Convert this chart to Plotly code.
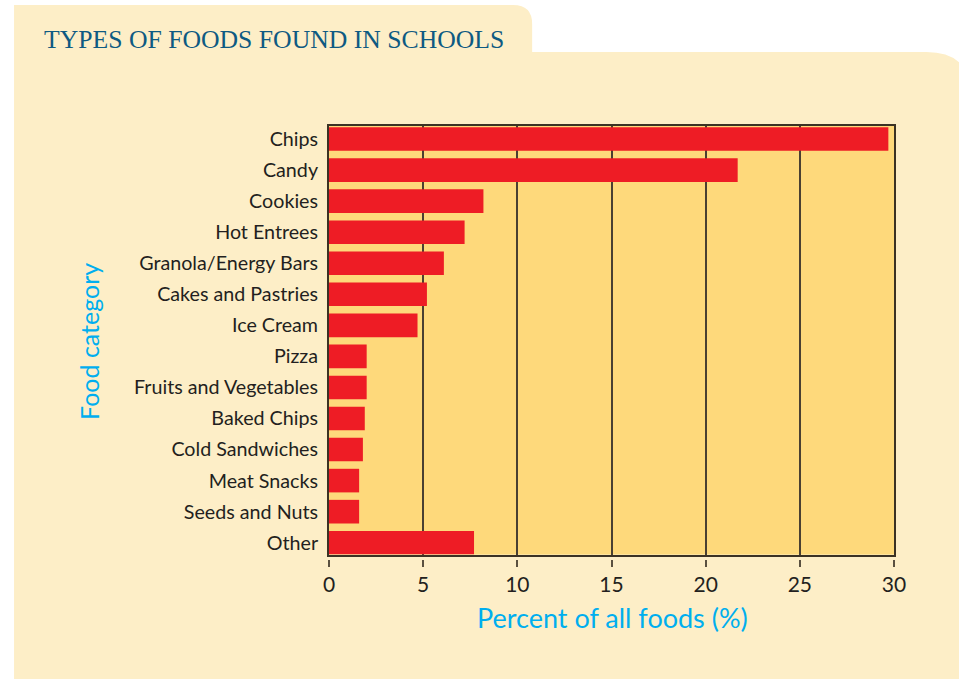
import plotly.graph_objects as go

categories = ["Chips", "Candy", "Cookies", "Hot Entrees", "Granola/Energy Bars",
              "Cakes and Pastries", "Ice Cream", "Pizza", "Fruits and Vegetables",
              "Baked Chips", "Cold Sandwiches", "Meat Snacks", "Seeds and Nuts", "Other"]
percent = [29.7, 21.7, 8.2, 7.2, 6.1, 5.2, 4.7, 2.0, 2.0, 1.9, 1.8, 1.6, 1.6, 7.7]
x_ticks = [0, 5, 10, 15, 20, 25, 30]

W, H = 959, 679
L, R, T, B = 328.5, 894.5, 126, 559  # paper box in pixels
AX_BOTTOM = 554.5


def px(x):
    return (x - L) / (R - L)


def py(y):
    return (B - y) / (B - T)


def P(x, y):
    return f"{px(x):.5f},{py(y):.5f}"


panel_path = (f"M {P(13,5)} L {P(513,5)} Q {P(532,5)} {P(532,24)} L {P(532,52)} "
              f"L {P(927,52)} Q {P(972,52)} {P(972,97)} L {P(972,700)} L {P(13,700)} Z")

SANS = "Lato, 'Open Sans', sans-serif"
DARK = "#231f20"
CYAN = "#00aeef"
LINE = "#3b3224"

fig = go.Figure()
fig.add_trace(go.Bar(
    x=percent, y=categories, orientation="h",
    marker=dict(color="#ee1c25", line=dict(width=0)),
    width=0.76, hoverinfo="x+y",
))
# invisible trace so the tick-label axis is drawn
fig.add_trace(go.Scatter(x=[0, 30], y=[categories[0], categories[0]], xaxis="x2", yaxis="y",
                         mode="markers", marker=dict(opacity=0), hoverinfo="skip",
                         showlegend=False))

fig.update_layout(
    width=W, height=H,
    margin=dict(l=L, r=W - R, t=T, b=H - B, pad=0),
    paper_bgcolor="white",
    plot_bgcolor="rgba(0,0,0,0)",
    showlegend=False,
    xaxis=dict(
        range=[0, 30], tickvals=x_ticks, showticklabels=False, ticks="",
        showgrid=True, gridcolor="#4a4032", gridwidth=1.5, zeroline=False,
        showline=True, linecolor=LINE, linewidth=2, mirror=True,
        anchor="y", fixedrange=True,
    ),
    xaxis2=dict(
        range=[0, 30], tickvals=x_ticks, ticktext=[str(v) for v in x_ticks],
        overlaying="x", anchor="free", position=0, side="bottom",
        ticks="outside", ticklen=7, tickwidth=2, tickcolor="#5a5040",
        showline=False, showgrid=False, zeroline=False,
        tickfont=dict(family=SANS, size=21, color=DARK),
    ),
    yaxis=dict(
        domain=[(B - AX_BOTTOM) / (B - T), 1],
        range=[13.38, -0.42], type="category",
        showgrid=False, zeroline=False, ticks="",
        showline=True, linecolor=LINE, linewidth=2, mirror=True,
        tickfont=dict(family=SANS, size=19.7, color=DARK),
        ticklabelstandoff=5,
    ),
    shapes=[
        dict(type="path", path=panel_path, xref="paper", yref="paper",
             fillcolor="#fdeec7", line=dict(width=0), layer="below"),
        dict(type="rect", xref="x domain", yref="y domain", x0=0, x1=1, y0=0, y1=1,
             fillcolor="#fed97b", line=dict(width=0), layer="below"),
    ],
    annotations=[
        dict(text="TYPES OF FOODS FOUND IN SCHOOLS", xref="paper", yref="paper",
             x=px(41), y=py(39), xanchor="left", yanchor="middle", showarrow=False,
             font=dict(family="'Liberation Serif', 'Times New Roman', serif", size=25.7,
                       color="#0e5a82")),
        dict(text="Percent of all foods (%)", xref="paper", yref="paper",
             x=px(613), y=py(617), xanchor="center", yanchor="middle", showarrow=False,
             font=dict(family=SANS, size=27, color=CYAN)),
        dict(text="Food category", xref="paper", yref="paper", textangle=-90,
             x=px(88), y=py(341), xanchor="center", yanchor="middle", showarrow=False,
             font=dict(family=SANS, size=25, color=CYAN)),
    ],
)

fig.write_html("out.html", config={"displayModeBar": False},
               post_script="document.body.style.margin='0';document.body.style.overflow='hidden';")
